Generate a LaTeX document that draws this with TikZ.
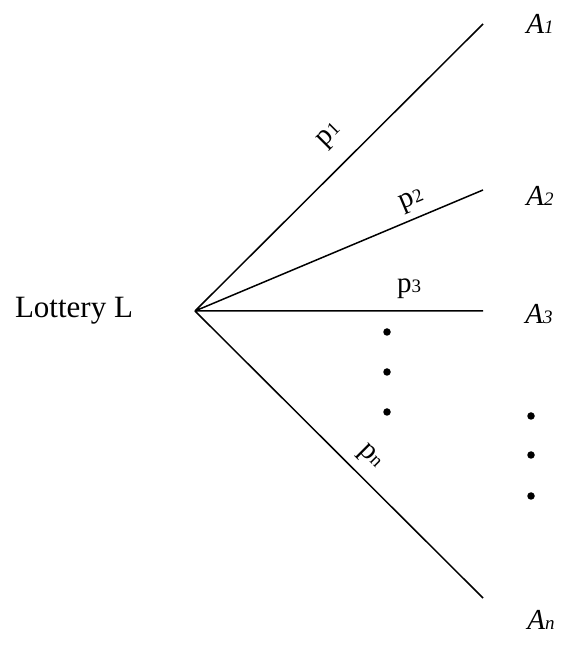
\documentclass[tikz,border=0pt]{standalone}
\usepackage{fontspec}
\setmainfont{Liberation Serif}
\usetikzlibrary{arrows.meta}
\newcommand{\prob}[1]{p{\fontsize{19}{19}\selectfont #1}}
\newcommand{\outc}[1]{\textit{A{\fontsize{19}{19}\selectfont #1}}}

\begin{document}
\begin{tikzpicture}[x=1pt,y=1pt,line width=1.5pt,
  lab/.style={font=\fontsize{29}{33}\selectfont,inner sep=0pt},
  dot/.style={circle,fill=black,inner sep=0pt,minimum size=7.5pt}]
\useasboundingbox (0,0) rectangle (564,645);
\node[font=\fontsize{31}{36}\selectfont,inner sep=0pt] (lot) at (74,334) {Lottery L};
\coordinate (o) at (195,334);
\coordinate (e1) at (483,621);
\coordinate (e2) at (483,455);
\coordinate (e3) at (483,334);
\coordinate (en) at (483,47);
\draw (o)--(e1) (o)--(e2) (o)--(e3) (o)--(en);
\node[lab] (a1) at (540,621) {\outc{1}};
\node[lab] (a2) at (540,449) {\outc{2}};
\node[lab] (a3) at (539,331) {\outc{3}};
\node[lab] (an) at (541,25) {\outc{n}};
\node[lab,rotate=45] (p1) at (330,509) {\prob{1}};
\node[lab,rotate=22.8] (p2) at (412,444) {\prob{2}};
\node[lab] (p3) at (409,356) {\prob{3}};
\node[lab,rotate=-45] (pn) at (370,188) {\prob{n}};
\foreach \y [count=\i] in {313,273,233}
  \node[dot] (m\i) at (387,\y) {};
\foreach \y [count=\i] in {229,190,149}
  \node[dot] (r\i) at (531,\y) {};
\end{tikzpicture}
\end{document}
